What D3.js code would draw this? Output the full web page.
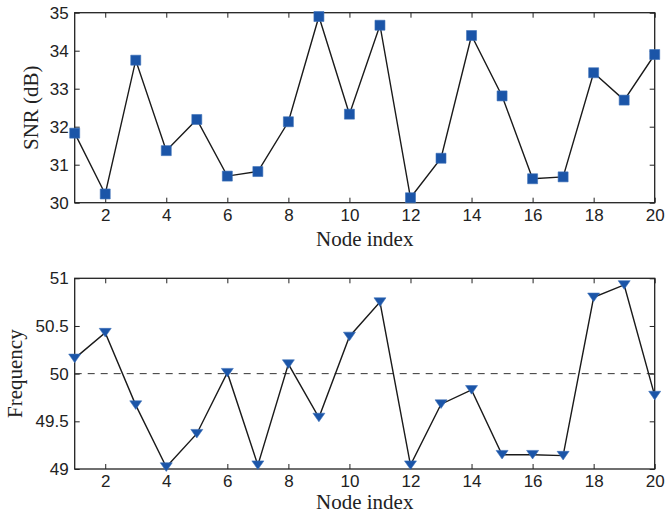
<!DOCTYPE html>
<html>
<head>
<meta charset="utf-8">
<script src="https://cdn.jsdelivr.net/npm/d3@7"></script>
<style>
  body { margin: 0; background: #fff; }
  .tick text { font-family: "Liberation Sans", Arial, sans-serif; font-size: 17px; fill: #222; }
  .tick line { stroke: #222; stroke-width: 1; }
  .lbl { font-family: "Liberation Serif", "Times New Roman", serif; font-size: 21px; fill: #222; }
</style>
</head>
<body>
<svg width="666" height="520"></svg>
<script>
// node indices and measured values
var nodes = d3.range(1, 21);
var snr = [31.83, 30.23, 33.75, 31.37, 32.19, 30.70, 30.82, 32.13, 34.90, 32.33,
           34.67, 30.13, 31.17, 34.40, 32.81, 30.63, 30.68, 33.42, 32.70, 33.90];
var freq = [50.16, 50.43, 49.67, 49.02, 49.37, 50.01, 49.04, 50.10, 49.54, 50.39,
            50.75, 49.04, 49.68, 49.83, 49.15, 49.15, 49.14, 50.80, 50.93, 49.77];
var xTicks = [2, 4, 6, 8, 10, 12, 14, 16, 18, 20];
var snrTicks = [30, 31, 32, 33, 34, 35];
var freqTicks = [49, 49.5, 50, 50.5, 51];
var nominalFreq = 50;

var svg = d3.select("svg");
var blue = "#1b55a8";

var x = d3.scaleLinear().domain([1, 20]).range([74.7, 654.7]);

function panel(opts) {
  var y = d3.scaleLinear().domain(opts.domain).range([opts.bottom, opts.top]);
  var g = svg.append("g");

  // axes (ticks pointing inward, like matlab)
  g.append("g")
    .attr("transform", "translate(0," + opts.bottom + ")")
    .call(d3.axisBottom(x).tickValues(xTicks).tickSize(-5).tickPadding(6).tickFormat(function(d) { return d; }))
    .call(function(a) { a.select(".domain").remove(); });
  g.append("g")
    .attr("transform", "translate(0," + opts.top + ")")
    .call(d3.axisTop(x).tickValues(xTicks).tickSize(-5).tickFormat(""))
    .call(function(a) { a.select(".domain").remove(); });
  g.append("g")
    .attr("transform", "translate(" + x.range()[0] + ",0)")
    .call(d3.axisLeft(y).tickValues(opts.ticks).tickSize(-5).tickPadding(6).tickFormat(function(d) { return d; }))
    .call(function(a) { a.select(".domain").remove(); });
  g.append("g")
    .attr("transform", "translate(" + x.range()[1] + ",0)")
    .call(d3.axisRight(y).tickValues(opts.ticks).tickSize(-5).tickFormat(""))
    .call(function(a) { a.select(".domain").remove(); });

  g.append("rect")
    .attr("x", x.range()[0]).attr("y", opts.top)
    .attr("width", x.range()[1] - x.range()[0])
    .attr("height", opts.bottom - opts.top)
    .attr("fill", "none").attr("stroke", "#222").attr("stroke-width", 1.3);

  if (opts.ref != null) {
    g.append("line")
      .attr("x1", x.range()[0]).attr("x2", x.range()[1])
      .attr("y1", y(opts.ref)).attr("y2", y(opts.ref))
      .attr("stroke", "#333").attr("stroke-width", 1)
      .attr("stroke-dasharray", "7,6");
  }

  var line = d3.line()
    .x(function(d, i) { return x(nodes[i]); })
    .y(function(d) { return y(d); });

  g.append("path")
    .datum(opts.values)
    .attr("d", line)
    .attr("fill", "none")
    .attr("stroke", "#1a1a1a")
    .attr("stroke-width", 1.4);

  var sym = opts.marker == "square"
    ? d3.symbol().type(d3.symbolSquare).size(100)
    : function() { return "M-6,-4.3L6,-4.3L0,4.3Z"; };

  g.selectAll(".m")
    .data(opts.values)
    .enter().append("path")
      .attr("class", "m")
      .attr("transform", function(d, i) { return "translate(" + x(nodes[i]) + "," + y(d) + ")"; })
      .attr("d", sym)
      .attr("fill", blue)
      .attr("stroke", "#3c70b8")
      .attr("stroke-width", 0.6);

  svg.append("text")
    .attr("class", "lbl")
    .attr("x", (x.range()[0] + x.range()[1]) / 2)
    .attr("y", opts.xlabelY)
    .attr("text-anchor", "middle")
    .text("Node index");

  svg.append("text")
    .attr("class", "lbl")
    .attr("transform", "translate(" + opts.ylabelX + "," + (opts.top + opts.bottom) / 2 + ") rotate(-90)")
    .attr("text-anchor", "middle")
    .text(opts.ylabel);
}

panel({ domain: [30, 35], top: 12.7, bottom: 202.7, ticks: snrTicks, values: snr,
        marker: "square", ylabel: "SNR (dB)", ylabelX: 38, xlabelY: 246, ref: null });
panel({ domain: [49, 51], top: 278.3, bottom: 469, ticks: freqTicks, values: freq,
        marker: "triangle", ylabel: "Frequency", ylabelX: 22, xlabelY: 509, ref: nominalFreq });
</script>
</body>
</html>
